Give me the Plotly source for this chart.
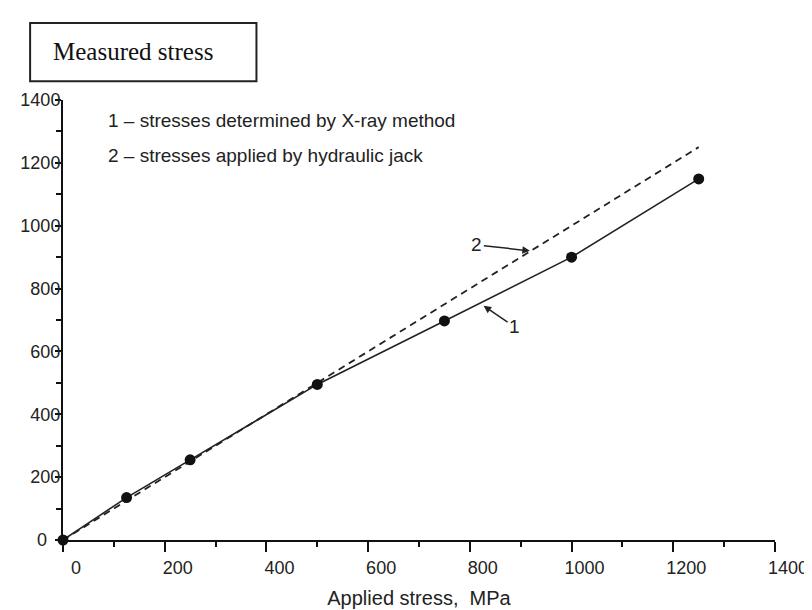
import plotly.graph_objects as go

# Data
applied_xray = [0, 125, 250, 500, 750, 1000, 1250]
measured_xray = [0, 135, 255, 495, 697, 900, 1149]

applied_jack = [0, 1250]
measured_jack = [0, 1250]

tick_vals = [0, 200, 400, 600, 800, 1000, 1200, 1400]
tick_text = ["0", "200", "400", "600", "800", "1000", "1200", "1400"]
y_tick_text = ["", "200", "400", "600", "800", "1000", "1200", "1400"]

legend_lines = ["1 \u2013 stresses determined by X-ray method",
                "2 \u2013 stresses applied by hydraulic jack"]

SANS = "Liberation Sans, Arial, sans-serif"
SERIF = "Liberation Serif, Times New Roman, serif"

fig = go.Figure()

fig.add_trace(go.Scatter(
    x=applied_jack, y=measured_jack, mode="lines",
    line=dict(color="#222222", width=1.8, dash="7px,5px"),
    showlegend=False, cliponaxis=False))

fig.add_trace(go.Scatter(
    x=applied_xray, y=measured_xray, mode="lines+markers",
    line=dict(color="#222222", width=1.6),
    marker=dict(color="#111111", size=11, symbol="circle"),
    showlegend=False, cliponaxis=False))

axis_common = dict(
    range=[0, 1400], tickvals=tick_vals,
    showgrid=False, zeroline=False, showline=True,
    linecolor="#111111", linewidth=2,
    ticks="outside", tickcolor="#111111", tickwidth=2,
    tickfont=dict(family=SANS, size=18, color="#222222"),
    minor=dict(ticks="outside", dtick=100, ticklen=5, tickwidth=2, tickcolor="#111111"),
)

fig.update_xaxes(**axis_common, ticktext=tick_text, ticklen=10,
                 ticklabelshift=13, ticklabelstandoff=0,
                 title=dict(text="Applied stress,\u00a0\u00a0MPa",
                            font=dict(family=SANS, size=20, color="#222222"),
                            standoff=14))
fig.update_yaxes(**axis_common, ticktext=y_tick_text, ticklen=6,
                 ticklabelstandoff=-9)

# legend text lines
fig.add_annotation(x=84, y=1334, xref="x", yref="y", text=legend_lines[0],
                   showarrow=False, xanchor="left", yanchor="middle",
                   font=dict(family=SANS, size=19, color="#222222"))
fig.add_annotation(x=84, y=1224, xref="x", yref="y", text=legend_lines[1],
                   showarrow=False, xanchor="left", yanchor="middle",
                   font=dict(family=SANS, size=19, color="#222222"))

# curve labels with arrows
fig.add_annotation(x=918, y=920, xref="x", yref="y", text="2",
                   showarrow=True, ax=-53, ay=-6, arrowhead=2, arrowsize=1,
                   arrowwidth=1.5, arrowcolor="#222222", standoff=0,
                   font=dict(family=SANS, size=19, color="#222222"))
fig.add_annotation(x=827, y=745, xref="x", yref="y", text="1",
                   showarrow=True, ax=31, ay=21, arrowhead=2, arrowsize=1,
                   arrowwidth=1.5, arrowcolor="#222222", standoff=0,
                   font=dict(family=SANS, size=19, color="#222222"))

# y-axis zero label
fig.add_annotation(x=-0.03, y=0, xref="paper", yref="y", text="0",
                   showarrow=False, xanchor="center", yanchor="middle",
                   font=dict(family=SANS, size=18, color="#222222"))

# "Measured stress" boxed label
fig.add_shape(type="rect", xref="paper", yref="paper",
              x0=-0.0462, x1=0.2717, y0=1.0426, y1=1.1749,
              line=dict(color="#222222", width=2), fillcolor="white")
fig.add_annotation(x=-0.0168, y=1.1099, xref="paper", yref="paper",
                   text="Measured stress", showarrow=False,
                   xanchor="left", yanchor="middle",
                   font=dict(family=SERIF, size=25, color="#111111"))

fig.update_layout(
    width=812, height=610,
    margin=dict(l=55, r=43, t=92, b=72),
    paper_bgcolor="white", plot_bgcolor="white",
    showlegend=False,
)

fig.write_html("out.html")
